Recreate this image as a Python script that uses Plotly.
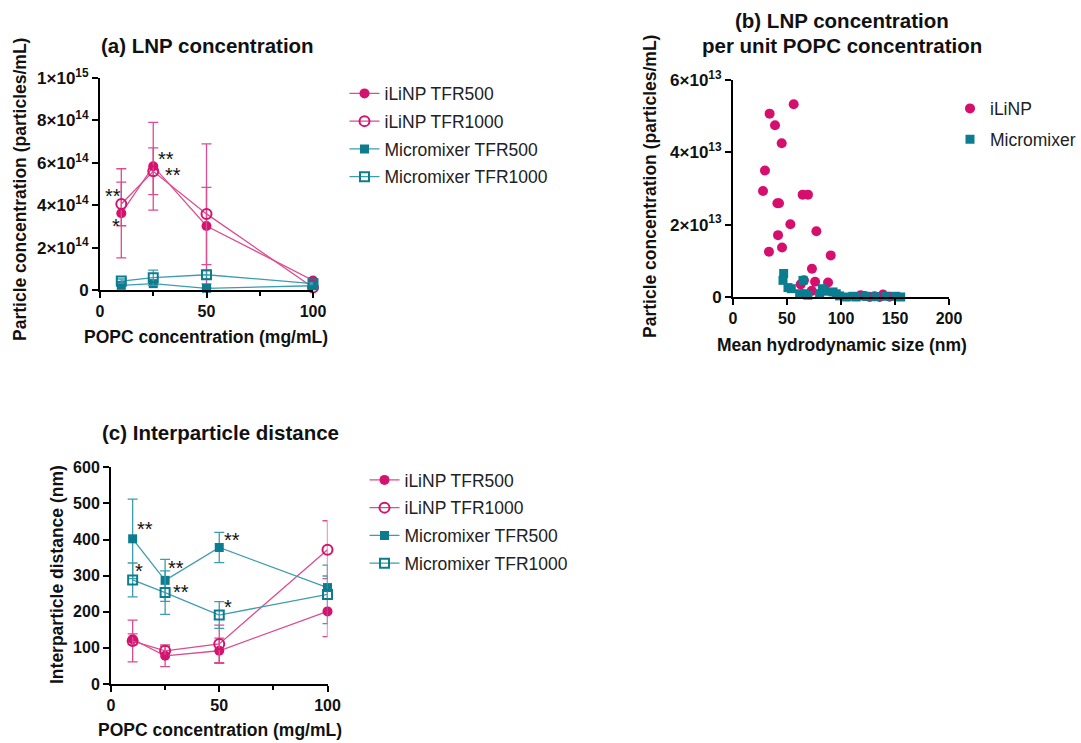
import plotly.graph_objects as go

W, H = 1081, 743
PINK = "#D3136E"
TEAL = "#0E7C8F"
PINK_L = "#DC4C8E"
TEAL_L = "#3C9DAE"

# ---------------- data ----------------
popc = [10, 25, 50, 100]

# (a) LNP concentration (particles/mL)
a_ilinp500 = [3.62e14, 5.84e14, 3.02e14, 0.45e14]
a_ilinp500_err = [2.10e14, 2.07e14, 1.82e14, 0.12e14]
a_ilinp1000 = [4.06e14, 5.60e14, 3.59e14, 0.12e14]
a_ilinp1000_err = [1.03e14, 1.10e14, 3.30e14, 0.08e14]
a_mm500 = [0.22e14, 0.30e14, 0.08e14, 0.20e14]
a_mm500_err = [0.05e14, 0.08e14, 0.03e14, 0.05e14]
a_mm1000 = [0.42e14, 0.58e14, 0.72e14, 0.30e14]
a_mm1000_err = [0.10e14, 0.36e14, 0.20e14, 0.05e14]

a_yticks = [0, 2e14, 4e14, 6e14, 8e14, 1e15]
a_yticklabels = ["0", "2×10<sup>14</sup>", "4×10<sup>14</sup>", "6×10<sup>14</sup>",
                 "8×10<sup>14</sup>", "1×10<sup>15</sup>"]

# (b) concentration per unit POPC vs size
b_ilinp_size = [56.2, 33.9, 38.9, 45.1, 29.6, 27.8, 41.1, 42.6, 64.5, 69.4, 53.1, 77.2,
                41.7, 33.3, 45.4, 90.5, 73.1, 76.0, 65.7, 62.7, 88.0, 72.9,
                118.2, 122.0, 126.5, 131.0, 135.8, 138.9, 145.0]
b_ilinp_conc = [5.33e13, 5.07e13, 4.75e13, 4.25e13, 3.50e13, 2.93e13, 2.59e13, 2.59e13,
                2.83e13, 2.83e13, 2.01e13, 1.82e13, 1.71e13, 1.25e13, 1.37e13, 1.15e13,
                0.78e13, 0.42e13, 0.46e13, 0.35e13, 0.40e13, 0.17e13,
                0.05e13, 0.03e13, 0.00e13, 0.02e13, 0.00e13, 0.07e13, 0.01e13]
b_mm_size = [46.9, 46.3, 50.9, 54.0, 61.7, 64.8, 66.2, 69.3, 80.2, 82.7, 84.9, 92.6,
             95.6, 98.7, 104.9, 111.0, 114.0, 123.0, 132.0, 141.5, 150.7, 155.3]
b_mm_conc = [0.65e13, 0.46e13, 0.26e13, 0.23e13, 0.09e13, 0.46e13, 0.09e13, 0.05e13,
             0.09e13, 0.23e13, 0.16e13, 0.14e13, 0.09e13, 0.03e13, 0.00e13, 0.02e13,
             0.00e13, 0.02e13, 0.01e13, 0.02e13, 0.02e13, 0.00e13]
b_yticks = [0, 2e13, 4e13, 6e13]
b_yticklabels = ["0", "2×10<sup>13</sup>", "4×10<sup>13</sup>", "6×10<sup>13</sup>"]

# (c) interparticle distance (nm)
c_ilinp500 = [124, 78, 92, 201]
c_ilinp500_err = [15, 30, 35, 70]
c_ilinp1000 = [119, 92, 111, 372]
c_ilinp1000_err = [58, 12, 52, 80]
c_mm500 = [402, 287, 378, 267]
c_mm500_err = [110, 58, 42, 32]
c_mm1000 = [288, 253, 191, 248]
c_mm1000_err = [47, 60, 37, 81]

# significance marks: (text, x, y)
a_stars = [("**", 6.0, 4.45e14), ("*", 7.6, 3.0e14), ("**", 31.0, 6.17e14), ("**", 34.3, 5.42e14)]
c_stars = [("**", 15.5, 428), ("*", 13.0, 314), ("**", 30.0, 320), ("**", 32.5, 254),
           ("**", 56.0, 398), ("*", 54.0, 214)]

# ---------------- layout helpers ----------------
def fx(px):
    return px / W

def fy(py):
    return 1 - py / H

FONT = "Liberation Sans, Arial, sans-serif"

fig = go.Figure()

def add_series(x, y, err, name, color, lcolor, symbol, size, xa, ya, legend, group):
    fig.add_trace(go.Scatter(
        x=x, y=y, name=name, mode="lines+markers",
        xaxis=xa, yaxis=ya, legend=legend, legendgroup=group,
        line=dict(color=lcolor, width=1.3),
        marker=dict(symbol=symbol, size=size, color=color,
                    line=dict(color=color, width=2 if "open" in symbol else 0)),
        error_y=dict(type="data", array=err, visible=True, color=lcolor,
                     thickness=1.3, width=5),
        cliponaxis=False,
    ))

# panel (a)
add_series(popc, a_ilinp500, a_ilinp500_err, "iLiNP TFR500", PINK, PINK_L, "circle", 10, "x", "y", "legend", "a1")
add_series(popc, a_ilinp1000, a_ilinp1000_err, "iLiNP TFR1000", PINK, PINK_L, "circle-open", 10, "x", "y", "legend", "a2")
add_series(popc, a_mm500, a_mm500_err, "Micromixer TFR500", TEAL, TEAL_L, "square", 9, "x", "y", "legend", "a3")
add_series(popc, a_mm1000, a_mm1000_err, "Micromixer TFR1000", TEAL, TEAL_L, "square-open", 9, "x", "y", "legend", "a4")

# panel (b)
fig.add_trace(go.Scatter(x=b_ilinp_size, y=b_ilinp_conc, name="iLiNP", mode="markers",
                         xaxis="x2", yaxis="y2", legend="legend2", legendgroup="b1",
                         marker=dict(symbol="circle", size=10, color="#D60E6E"), cliponaxis=False))
fig.add_trace(go.Scatter(x=b_mm_size, y=b_mm_conc, name="Micromixer", mode="markers",
                         xaxis="x2", yaxis="y2", legend="legend2", legendgroup="b2",
                         marker=dict(symbol="square", size=9, color="#0A7E90"), cliponaxis=False))

# panel (c)
add_series(popc, c_ilinp500, c_ilinp500_err, "iLiNP TFR500", PINK, PINK_L, "circle", 10, "x3", "y3", "legend3", "c1")
add_series(popc, c_ilinp1000, c_ilinp1000_err, "iLiNP TFR1000", PINK, PINK_L, "circle-open", 10, "x3", "y3", "legend3", "c2")
add_series(popc, c_mm500, c_mm500_err, "Micromixer TFR500", TEAL, TEAL_L, "square", 9, "x3", "y3", "legend3", "c3")
add_series(popc, c_mm1000, c_mm1000_err, "Micromixer TFR1000", TEAL, TEAL_L, "square-open", 9, "x3", "y3", "legend3", "c4")


def xaxis(domain, anchor, rng, tickvals, minor=None):
    d = dict(domain=domain, anchor=anchor, range=rng, tickvals=tickvals,
             showline=True, linecolor="black", linewidth=2, ticks="outside",
             ticklen=6, tickwidth=2, tickcolor="black", showgrid=False, zeroline=False,
             tickfont=dict(family=FONT, size=16, color="#111", weight="bold"),
             fixedrange=True, automargin=False)
    if minor:
        d["minor"] = dict(tickvals=minor, ticks="outside", ticklen=4, tickwidth=1.5,
                          tickcolor="black", showgrid=False)
    return d

def yaxis(domain, anchor, rng, tickvals, ticktext=None, size=16):
    d = dict(domain=domain, anchor=anchor, range=rng, tickvals=tickvals,
             showline=True, linecolor="black", linewidth=2, ticks="outside",
             ticklen=6, tickwidth=2, tickcolor="black", showgrid=False, zeroline=False,
             tickfont=dict(family=FONT, size=size, color="#111", weight="bold"),
             fixedrange=True, automargin=False)
    if ticktext:
        d["ticktext"] = ticktext
    return d

LEGFONT = dict(family=FONT, size=17.5, color="#222")

fig.update_layout(
    template="none",
    width=W, height=H, margin=dict(l=0, r=0, t=0, b=0, pad=0, autoexpand=False),
    paper_bgcolor="white", plot_bgcolor="white",
    font=dict(family=FONT, color="#111"),
    showlegend=True,
    xaxis=xaxis([fx(100), fx(313)], "y", [0, 100], [0, 50, 100], [25, 75]),
    yaxis=yaxis([fy(290), fy(78)], "x", [0, 1e15], a_yticks, a_yticklabels, size=17),
    xaxis2=xaxis([fx(733), fx(949)], "y2", [0, 200], [0, 50, 100, 150, 200]),
    yaxis2=yaxis([fy(297), fy(80)], "x2", [0, 6e13], b_yticks, b_yticklabels, size=17),
    xaxis3=xaxis([fx(111), fx(327.5)], "y3", [0, 100], [0, 50, 100], [25, 75]),
    yaxis3=yaxis([fy(684), fy(467.3)], "x3", [0, 600], [0, 100, 200, 300, 400, 500, 600]),
    legend=dict(x=fx(344.5), y=fy(75.5), xanchor="left", yanchor="top",
                font=LEGFONT, tracegroupgap=2, bgcolor="rgba(0,0,0,0)", borderwidth=0),
    legend2=dict(x=1.0, y=fy(90.5), xanchor="right", yanchor="top",
                 font=LEGFONT, tracegroupgap=5, bgcolor="rgba(0,0,0,0)", borderwidth=0),
    legend3=dict(x=fx(364.5), y=fy(462), xanchor="left", yanchor="top",
                 font=LEGFONT, tracegroupgap=2, bgcolor="rgba(0,0,0,0)", borderwidth=0),
)

ann = []
def text(t, px, py, size=17.5, angle=0, bold=True, xanchor="center"):
    ann.append(dict(text=t, x=fx(px), y=fy(py), xref="paper", yref="paper",
                    showarrow=False, textangle=angle, xanchor=xanchor, yanchor="middle",
                    font=dict(family=FONT, size=size, color="#111",
                              weight="bold" if bold else "normal")))

# titles
text("(a) LNP concentration", 207, 45, size=20.5)
text("(b) LNP concentration", 842, 20, size=20.5)
text("per unit POPC concentration", 842, 45, size=20.5)
text("(c) Interparticle distance", 220, 432, size=20.5)
# axis titles
text("Particle concentration (particles/mL)", 20, 190, angle=-90)
text("POPC concentration (mg/mL)", 206, 337)
text("Particle concentration (particles/mL)", 650, 187, angle=-90)
text("Mean hydrodynamic size (nm)", 842, 345)
text("Interparticle distance (nm)", 57, 575, angle=-90)
text("POPC concentration (mg/mL)", 220, 730)

for t, x, y in a_stars:
    ann.append(dict(text=t, x=x, y=y, xref="x", yref="y", showarrow=False,
                    font=dict(family=FONT, size=20, color="#111")))
for t, x, y in c_stars:
    ann.append(dict(text=t, x=x, y=y, xref="x3", yref="y3", showarrow=False,
                    font=dict(family=FONT, size=20, color="#111")))

fig.update_layout(annotations=ann)
fig.write_html("out.html")
